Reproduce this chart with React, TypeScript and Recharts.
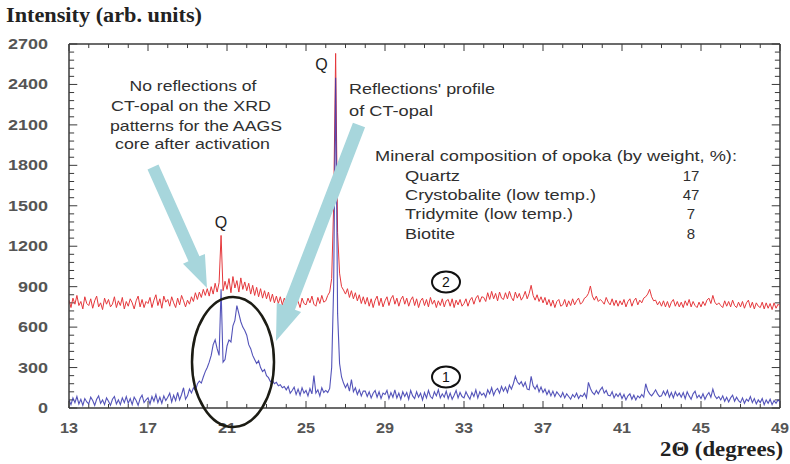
import { Line, LineChart, ReferenceLine, XAxis, YAxis } from "recharts";

// XRD patterns, 2θ from 13° to 49° in 0.1° steps
const thetaStart = 13;
const thetaStep = 0.1;

// curve 1 (blue): AAGS core before activation
const curve1 = [
  60, 25, 75, 40, 85, 30, 65, 20, 70, 45,
  30, 80, 55, 20, 65, 90, 35, 60, 25, 75,
  50, 20, 65, 85, 30, 60, 25, 75, 40, 85,
  35, 70, 25, 80, 55, 20, 70, 95, 40, 60,
  75, 30, 85, 50, 100, 40, 80, 35, 90, 55,
  80, 110, 45, 95, 55, 115, 60, 100, 150, 65,
  90, 141, 112, 150, 130, 178, 200, 185, 230, 270,
  300, 340, 390, 470, 505, 440, 390, 880, 340, 360,
  460, 505, 490, 610, 650, 760, 700, 640, 600, 575,
  540, 470, 440, 390, 360, 330, 350, 300, 270, 285,
  240, 225, 195, 205, 180, 190, 165, 172, 150, 160,
  135, 160, 110, 130, 155, 100, 140, 95, 150, 110,
  130, 90, 145, 105, 240, 110, 135, 90, 150, 115,
  130, 115, 145, 300, 900, 2450, 700, 330, 230, 185,
  150, 180, 125, 210, 120, 150, 100, 135, 90, 125,
  125, 85, 120, 75, 110, 130, 80, 120, 70, 110,
  100, 130, 70, 115, 80, 135, 75, 110, 65, 120,
  85, 115, 65, 130, 90, 70, 120, 80, 110, 60,
  115, 75, 130, 85, 70, 120, 90, 135, 75, 105,
  80, 125, 70, 110, 65, 95, 130, 75, 115, 85,
  75, 120, 90, 65, 115, 85, 135, 75, 120, 95,
  110, 80, 135, 105, 150, 95, 130, 145, 110, 160,
  125, 155, 115, 170, 140, 180, 235, 195, 175, 195,
  160, 190, 140, 135, 235, 165, 140, 170, 120, 155,
  115, 140, 100, 130, 90, 125, 85, 120, 100, 80,
  115, 75, 105, 85, 65, 100, 80, 110, 70, 95,
  85, 110, 75, 190, 145, 115, 100, 130, 105, 135,
  155, 110, 130, 95, 90, 120, 75, 105, 85, 110,
  70, 100, 60, 90, 105, 65, 95, 60, 90, 75,
  100, 80, 180, 130, 105, 90, 110, 135, 105, 85,
  90, 125, 95, 130, 80, 115, 75, 120, 90, 110,
  80, 115, 70, 120, 90, 65, 105, 125, 75, 95,
  70, 105, 65, 95, 115, 80, 140, 90, 70, 85,
  60, 90, 50, 80, 45, 75, 95, 50, 80, 55,
  40, 75, 35, 65, 50, 85, 40, 70, 30, 60,
  40, 70, 25, 60, 35, 65, 25, 55, 35, 60,
  45,
];

// curve 2 (red): AAGS core after activation
const curve2 = [
  800, 745, 815, 770, 835, 760, 790, 735, 825, 775,
  760, 810, 740, 795, 830, 750, 780, 730, 815, 770,
  805, 750, 770, 825, 745, 795, 760, 820, 735, 790,
  755, 810, 780, 735, 795, 830, 750, 805, 745, 790,
  775, 820, 745, 800, 840, 760, 810, 740, 830, 785,
  805, 755, 825, 780, 745, 815, 765, 835, 795, 750,
  800, 770, 825, 790, 855, 805, 860, 820, 880, 835,
  885, 830, 900, 845, 925, 860, 930, 1280, 870, 940,
  880, 960, 855, 975, 890, 945, 860, 965, 880, 935,
  870, 925, 845, 910, 835, 895, 825, 885, 815, 870,
  810, 860, 790, 845, 780, 830, 775, 825, 765, 815,
  780, 830, 765, 810, 755, 825, 790, 745, 815, 775,
  765, 815, 780, 830, 770, 755, 820, 775, 835, 785,
  795, 835, 860, 960, 1500, 2630, 1300, 1000, 900, 875,
  845, 885, 820, 870, 810, 855, 795, 840, 775, 825,
  770, 820, 755, 810, 745, 800, 830, 760, 815, 750,
  795, 825, 760, 810, 835, 770, 815, 755, 805, 830,
  770, 815, 755, 800, 825, 760, 810, 745, 795, 815,
  760, 805, 750, 820, 770, 800, 745, 795, 760, 810,
  750, 795, 805, 755, 810, 745, 800, 765, 805, 755,
  775, 810, 755, 800, 820, 770, 815, 835, 785, 825,
  820, 790, 855, 805, 865, 810, 850, 795, 860, 815,
  805, 855, 810, 865, 820, 795, 860, 815, 850, 800,
  825, 865, 810, 850, 910, 835, 800, 840, 790, 825,
  780, 820, 765, 805, 755, 800, 745, 790, 805, 755,
  765, 805, 750, 795, 760, 810, 765, 795, 815, 770,
  785, 815, 825, 850, 905, 830, 800, 830, 790, 805,
  790, 770, 820, 785, 765, 810, 760, 800, 755, 795,
  765, 805, 750, 790, 810, 755, 795, 815, 765, 800,
  780, 815, 825, 845, 880, 825, 795, 800, 765, 790,
  755, 795, 750, 790, 745, 785, 805, 755, 790, 750,
  785, 745, 795, 760, 805, 750, 790, 760, 745, 785,
  750, 790, 760, 800, 815, 775, 835, 785, 765, 780,
  760, 745, 795, 755, 790, 750, 800, 760, 745, 785,
  750, 790, 740, 780, 800, 745, 785, 735, 780, 755,
  745, 785, 735, 780, 740, 775, 730, 780, 740, 770,
  755,
];

const xTicks = [13, 17, 21, 25, 29, 33, 37, 41, 45, 49];
const yTicks = [0, 300, 600, 900, 1200, 1500, 1800, 2100, 2400, 2700];
const xMinorTicks = Array.from({ length: 37 }, (_, i) => 13 + i);
const yMinorTicks = Array.from({ length: 46 }, (_, i) => i * 60);

const compositionTitle = "Mineral composition of opoka (by weight, %):";
const minerals = ["Quartz", "Crystobalite (low temp.)", "Tridymite (low temp.)", "Biotite"];
const mineralShares = [17, 47, 7, 8];

const data = curve1.map((v, i) => ({
  theta: Number((thetaStart + i * thetaStep).toFixed(1)),
  curve1: v,
  curve2: curve2[i],
}));

const X0 = 13;
const X1 = 49;
const Y0 = 0;
const Y1 = 2700;

const axisColor = "#3a3a3a";
const labelFont = "'Liberation Sans', Arial, sans-serif";
const serif = "'Liberation Serif', 'Times New Roman', serif";

// inner tick marks, as short segments in data units
const xTickLen = (t: number) => (xTicks.includes(t) ? 52 : 30);
const yTickLen = (v: number) => (yTicks.includes(v) ? 0.42 : 0.26);

function YTick(props: any) {
  const { x, y, payload } = props;
  const s = String(payload.value);
  return (
    <text x={x} y={y} dy="0.36em" textAnchor="end" fontFamily={labelFont} fontSize={14} fontWeight="bold"
      fill="#555" textLength={s.length * 10} lengthAdjust="spacingAndGlyphs">
      {s}
    </text>
  );
}

function XTick(props: any) {
  const { x, y, payload } = props;
  const s = String(payload.value);
  return (
    <text x={x} y={y} dy="0.71em" textAnchor="middle" fontFamily={labelFont} fontSize={14} fontWeight="bold"
      fill="#555" textLength={s.length * 9} lengthAdjust="spacingAndGlyphs">
      {s}
    </text>
  );
}

function arrow(x1: number, y1: number, x2: number, y2: number, bw: number, hw: number, hl: number) {
  const len = Math.hypot(x2 - x1, y2 - y1);
  const ux = (x2 - x1) / len;
  const uy = (y2 - y1) / len;
  const px = -uy;
  const py = ux;
  const bx = x2 - ux * hl;
  const by = y2 - uy * hl;
  const pts = [
    [x1 + px * bw / 2, y1 + py * bw / 2],
    [bx + px * bw / 2, by + py * bw / 2],
    [bx + px * hw / 2, by + py * hw / 2],
    [x2, y2],
    [bx - px * hw / 2, by - py * hw / 2],
    [bx - px * bw / 2, by - py * bw / 2],
    [x1 - px * bw / 2, y1 - py * bw / 2],
  ];
  return pts.map((p) => p.join(",")).join(" ");
}

function Label({ x, y, w, children, anchor = "start", size = 15 }: any) {
  return (
    <text x={x} y={y} textAnchor={anchor} fontFamily={labelFont} fontSize={size} fill="#2f2f2f"
      textLength={w} lengthAdjust="spacingAndGlyphs">
      {children}
    </text>
  );
}

export default function App() {
  return (
    <div style={{ position: "absolute", left: 0, top: 0, width: 790, height: 464, background: "#fff" }}>
      <LineChart width={790} height={464} data={data} margin={{ top: 44, right: 10, bottom: 26, left: 0 }}>
        <XAxis dataKey="theta" type="number" domain={[X0, X1]} ticks={xTicks} allowDataOverflow
          height={30} tickLine={false} tickSize={0} tickMargin={15} tick={<XTick />} stroke={axisColor} strokeWidth={1.5} />
        <YAxis type="number" domain={[Y0, Y1]} ticks={yTicks} allowDataOverflow width={69}
          tickLine={false} tickSize={0} tickMargin={21} tick={<YTick />} stroke={axisColor} strokeWidth={1.5} />

        <ReferenceLine y={Y1} stroke={axisColor} strokeWidth={1.5} />
        <ReferenceLine x={X1} stroke={axisColor} strokeWidth={1.5} />
        {xMinorTicks.map((t) => (
          <ReferenceLine key={`b${t}`} segment={[{ x: t, y: Y0 }, { x: t, y: Y0 + xTickLen(t) }]}
            stroke={axisColor} strokeWidth={1} />
        ))}
        {xMinorTicks.map((t) => (
          <ReferenceLine key={`t${t}`} segment={[{ x: t, y: Y1 }, { x: t, y: Y1 - xTickLen(t) }]}
            stroke={axisColor} strokeWidth={1} />
        ))}
        {yMinorTicks.map((v) => (
          <ReferenceLine key={`l${v}`} segment={[{ x: X0, y: v }, { x: X0 + yTickLen(v), y: v }]}
            stroke={axisColor} strokeWidth={1} />
        ))}
        {yMinorTicks.map((v) => (
          <ReferenceLine key={`r${v}`} segment={[{ x: X1, y: v }, { x: X1 - yTickLen(v), y: v }]}
            stroke={axisColor} strokeWidth={1} />
        ))}

        <Line dataKey="curve2" type="linear" stroke="#e5383c" strokeWidth={1}
          dot={false} isAnimationActive={false} />
        <Line dataKey="curve1" type="linear" stroke="#3535ad" strokeWidth={1.1}
          strokeOpacity={0.85} dot={false} isAnimationActive={false} />
      </LineChart>

      <svg width={790} height={464} style={{ position: "absolute", left: 0, top: 0, pointerEvents: "none" }}>
        <text x={6} y={21.5} fontFamily={serif} fontWeight="bold" fontSize={20} fill="#222"
          textLength={196} lengthAdjust="spacingAndGlyphs">Intensity (arb. units)</text>
        <text x={660} y={456} fontFamily={serif} fontWeight="bold" fontSize={20} fill="#222"
          textLength={123} lengthAdjust="spacingAndGlyphs">2Θ (degrees)</text>

        <Label x={193} y={90.5} w={127} anchor="middle">No reflections of</Label>
        <Label x={191} y={110.5} w={160} anchor="middle">CT-opal on the XRD</Label>
        <Label x={196} y={130.5} w={172} anchor="middle">patterns for the AAGS</Label>
        <Label x={192.5} y={149} w={155} anchor="middle">core after activation</Label>

        <Label x={349} y={94} w={146}>Reflections' profile</Label>
        <Label x={349} y={115.5} w={84}>of CT-opal</Label>

        <Label x={375} y={160.5} w={362}>{compositionTitle}</Label>
        {minerals.map((m, i) => (
          <Label key={m} x={405} y={180.5 + i * 19.4} w={[55, 191, 168, 50][i]}>{m}</Label>
        ))}
        {mineralShares.map((v, i) => (
          <text key={i} x={691} y={180.5 + i * 19.4} textAnchor="middle" fontFamily={labelFont} fontSize={15}
            fill="#2f2f2f">{v}</text>
        ))}

        <text x={221} y={228} textAnchor="middle" fontFamily={labelFont} fontSize={16} fill="#222">Q</text>
        <text x={321.5} y={70} textAnchor="middle" fontFamily={labelFont} fontSize={16} fill="#222">Q</text>

        <ellipse cx={446} cy={282} rx={14} ry={10.5} fill="none" stroke="#111" strokeWidth={2} />
        <text x={446} y={287} textAnchor="middle" fontFamily={labelFont} fontSize={14} fill="#111">2</text>
        <ellipse cx={446} cy={377} rx={14} ry={10.5} fill="none" stroke="#111" strokeWidth={2} />
        <text x={446} y={382} textAnchor="middle" fontFamily={labelFont} fontSize={14} fill="#111">1</text>

        <polygon points={arrow(153, 167, 207, 288, 12, 24, 32)} fill="#a7d6dc" />
        <polygon points={arrow(359, 125, 276, 341, 13, 26, 36)} fill="#a7d6dc" />

        <ellipse cx={233} cy={362} rx={41} ry={65} fill="none" stroke="#1c1c14" strokeWidth={2.5} />
      </svg>
    </div>
  );
}
